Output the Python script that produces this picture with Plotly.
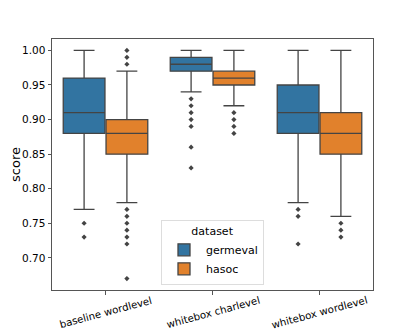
import plotly.graph_objects as go

categories = ["baseline wordlevel", "whitebox charlevel", "whitebox wordlevel"]
series = ["germeval", "hasoc"]
colors = {"germeval": "#3274a1", "hasoc": "#e1812c"}

# stats per series per category: lower whisker, q1, median, q3, upper whisker
germeval_low = [0.77, 0.94, 0.78]
germeval_q1 = [0.88, 0.97, 0.88]
germeval_med = [0.91, 0.98, 0.91]
germeval_q3 = [0.96, 0.99, 0.95]
germeval_high = [1.00, 1.00, 1.00]
germeval_outliers = [
    [0.75, 0.73],
    [0.93, 0.92, 0.91, 0.90, 0.89, 0.86, 0.83],
    [0.77, 0.76, 0.72],
]

hasoc_low = [0.78, 0.92, 0.76]
hasoc_q1 = [0.85, 0.95, 0.85]
hasoc_med = [0.88, 0.96, 0.88]
hasoc_q3 = [0.90, 0.97, 0.91]
hasoc_high = [0.97, 1.00, 1.00]
hasoc_outliers = [
    [1.00, 0.99, 0.98, 0.77, 0.76, 0.75, 0.74, 0.73, 0.72, 0.67],
    [0.91, 0.90, 0.89, 0.88],
    [0.75, 0.74, 0.73],
]

stats = {
    "germeval": (germeval_low, germeval_q1, germeval_med, germeval_q3, germeval_high, germeval_outliers),
    "hasoc": (hasoc_low, hasoc_q1, hasoc_med, hasoc_q3, hasoc_high, hasoc_outliers),
}
offsets = {"germeval": -0.2, "hasoc": 0.2}
line_gray = "#444444"
spine_gray = "#555555"

fig = go.Figure()
for s in series:
    lo, q1, med, q3, hi, outs = stats[s]
    xs = [i + offsets[s] for i in range(len(categories))]
    fig.add_trace(go.Box(
        x=xs, q1=q1, median=med, q3=q3, lowerfence=lo, upperfence=hi,
        name=s, fillcolor=colors[s], line=dict(color=line_gray, width=1.3),
        width=0.39, whiskerwidth=0.5, boxpoints=False, hoverinfo="skip",
    ))
    ox, oy = [], []
    for i, vals in enumerate(outs):
        for v in vals:
            ox.append(i + offsets[s])
            oy.append(v)
    fig.add_trace(go.Scatter(
        x=ox, y=oy, mode="markers", showlegend=False,
        marker=dict(symbol="diamond", size=4, color=line_gray),
    ))

for i, c in enumerate(categories):
    fig.add_annotation(
        x=i, xref="x", y=0, yref="paper", yshift=-22,
        text=c, textangle=-15, showarrow=False,
        xanchor="center", yanchor="middle",
        font=dict(family="DejaVu Sans", size=10.2, color="black"),
    )

# the page body has an 8px margin, so the figure is sized to fit the window
fig.update_layout(
    width=407, height=324,
    margin=dict(l=44, r=42, t=31, b=42),
    paper_bgcolor="white", plot_bgcolor="white",
    font=dict(family="DejaVu Sans", size=10.5, color="black"),
    boxmode="overlay",
    showlegend=True,
    legend=dict(
        title=dict(text="dataset", side="top center", font=dict(size=11)),
        x=0.5, xanchor="center", y=0.02, yanchor="bottom",
        bgcolor="white", bordercolor="#dddddd", borderwidth=1,
        font=dict(size=11), itemwidth=34,
    ),
)
fig.update_xaxes(
    range=[-0.5, 2.5], tickvals=[0, 1, 2], ticktext=["", "", ""],
    automargin=False, showgrid=False, zeroline=False,
    showline=True, mirror=True, linecolor=spine_gray, linewidth=1,
    ticks="outside", ticklen=3.5, tickcolor=spine_gray,
)
fig.update_yaxes(
    range=[0.6535, 1.0165], tickvals=[0.70, 0.75, 0.80, 0.85, 0.90, 0.95, 1.00],
    tickformat=".2f", title=dict(text="score", standoff=6),
    automargin=False, showgrid=False, zeroline=False,
    showline=True, mirror=True, linecolor=spine_gray, linewidth=1,
    ticks="outside", ticklen=3.5, tickcolor=spine_gray,
)

fig.write_html("out.html")
